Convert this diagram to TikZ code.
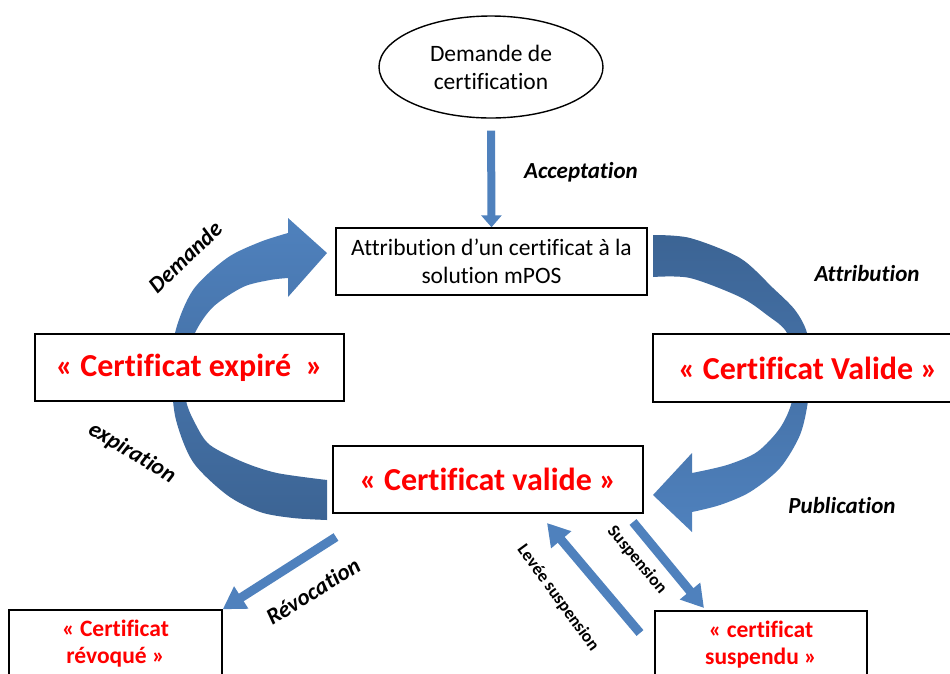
\documentclass[tikz,border=0pt]{standalone}
\usepackage{fontspec}
\setmainfont{Carlito}[Ligatures=NoCommon]
\usetikzlibrary{arrows.meta,shapes.geometric}
\definecolor{bl}{HTML}{4F81BD}
\definecolor{bd}{HTML}{3C6494}
\definecolor{bo}{HTML}{385D8A}
\definecolor{rd}{HTML}{FF0000}
\begin{document}
\begin{tikzpicture}[x=1pt,y=-1pt,
  plainbox/.style={draw, line width=1.4pt, fill=white, inner sep=0pt, align=center, minimum height=67pt},
  txt/.style={font=\fontsize{23.5}{28}\selectfont},
  redbig/.style={text=rd, font=\bfseries\fontsize{32}{36}\selectfont},
  redsmall/.style={text=rd, font=\bfseries\fontsize{23.5}{27}\selectfont},
  lbl/.style={font=\bfseries\itshape\fontsize{23}{26}\selectfont, inner sep=0pt},
  slbl/.style={font=\bfseries\fontsize{17.5}{20}\selectfont, inner sep=0pt},
  blockarrow/.style={draw=bl, line width=9pt, -{Triangle[width=25pt,length=22pt]}},
  smallarrow/.style={draw=bl, line width=8pt, -{Triangle[width=20pt,length=12pt]}}
]
\useasboundingbox (0,0) rectangle (950,673);

% curved arrow, left (Demande / expiration)
\shade[top color=bl, bottom color=bd]
  plot[smooth] coordinates {(327,520) (293,518) (260,512) (227,495) (193,462) (176,420) (172,380) (175,333) (193,290) (227,258) (260,242) (288,233)}
  -- (288,218) -- (327,253) -- (288,297) -- (288,278)
  -- plot[smooth] coordinates {(288,278) (270,280) (243,287) (213,307) (195,333) (187,365) (186,400) (196,425) (210,445) (243,462) (277,473) (327,480)}
  -- cycle;

% curved arrow, right (Attribution / Publication)
\shade[top color=bd, bottom color=bl]
  plot[smooth] coordinates {(653,235) (690,238) (740,258) (773,288) (795,310) (807,333) (810,368) (808,401) (800,435) (780,468) (750,492) (720,505) (692,512)}
  -- (692,532) -- (653,495) -- (692,453) -- (692,473)
  -- plot[smooth] coordinates {(692,473) (727,465) (757,452) (780,428) (792,401) (793,368) (787,333) (767,315) (740,297) (690,278) (653,277)}
  -- cycle;

% nodes
\node[ellipse, draw, line width=1.4pt, fill=white, minimum width=224pt, minimum height=102pt, inner sep=0pt, align=center, txt] (dem) at (491,67) {Demande de\\certification};
\node[plainbox, minimum width=311pt, txt] (attr) at (491.5,261.5) {Attribution d’un certificat à la\\solution mPOS};
\node[plainbox, minimum width=309pt, redbig] (exp) at (189.5,367.5) {«~Certificat expiré~~»};
\node[plainbox, minimum width=310pt, minimum height=68pt, redbig] (val) at (808,368) {«~Certificat Valide~»};
\node[plainbox, minimum width=310pt, redbig] (cv) at (488,479.5) {«~Certificat valide~»};
\node[plainbox, minimum width=213pt, minimum height=68pt, redsmall] (rev) at (115.5,644) {«~Certificat\\révoqué~»};
\node[plainbox, minimum width=212pt, minimum height=68pt, redsmall] (sus) at (761,645) {«~certificat\\suspendu~»};

% straight arrows
\draw[smallarrow, shorten <=12pt] (dem.south) -- (attr.north);
\coordinate (r1) at (336,537);
\draw[blockarrow] (r1) -- (rev.north east);
\coordinate (s1) at (633,522);
\coordinate (s2) at (704,608);
\draw[blockarrow] (s1) -- (s2);
\coordinate (l1) at (640,633);
\coordinate (l2) at (547,523);
\draw[blockarrow] (l1) -- (l2);

% labels
\node[lbl] (lacc) at (581,172) {Acceptation};
\node[lbl] (lattr) at (867,274) {Attribution};
\node[lbl] (lpub) at (842,506) {Publication};
\node[lbl, rotate=44] (ldem) at (185,257) {Demande};
\node[lbl, rotate=-31] (lexp) at (132,453) {expiration};
\node[lbl, rotate=32] (lrev) at (313,591) {Révocation};
\node[slbl, rotate=-50] (lsus) at (637,560) {Suspension};
\node[slbl, rotate=-54] (llev) at (558,598) {Levée suspension};
\end{tikzpicture}
\end{document}
